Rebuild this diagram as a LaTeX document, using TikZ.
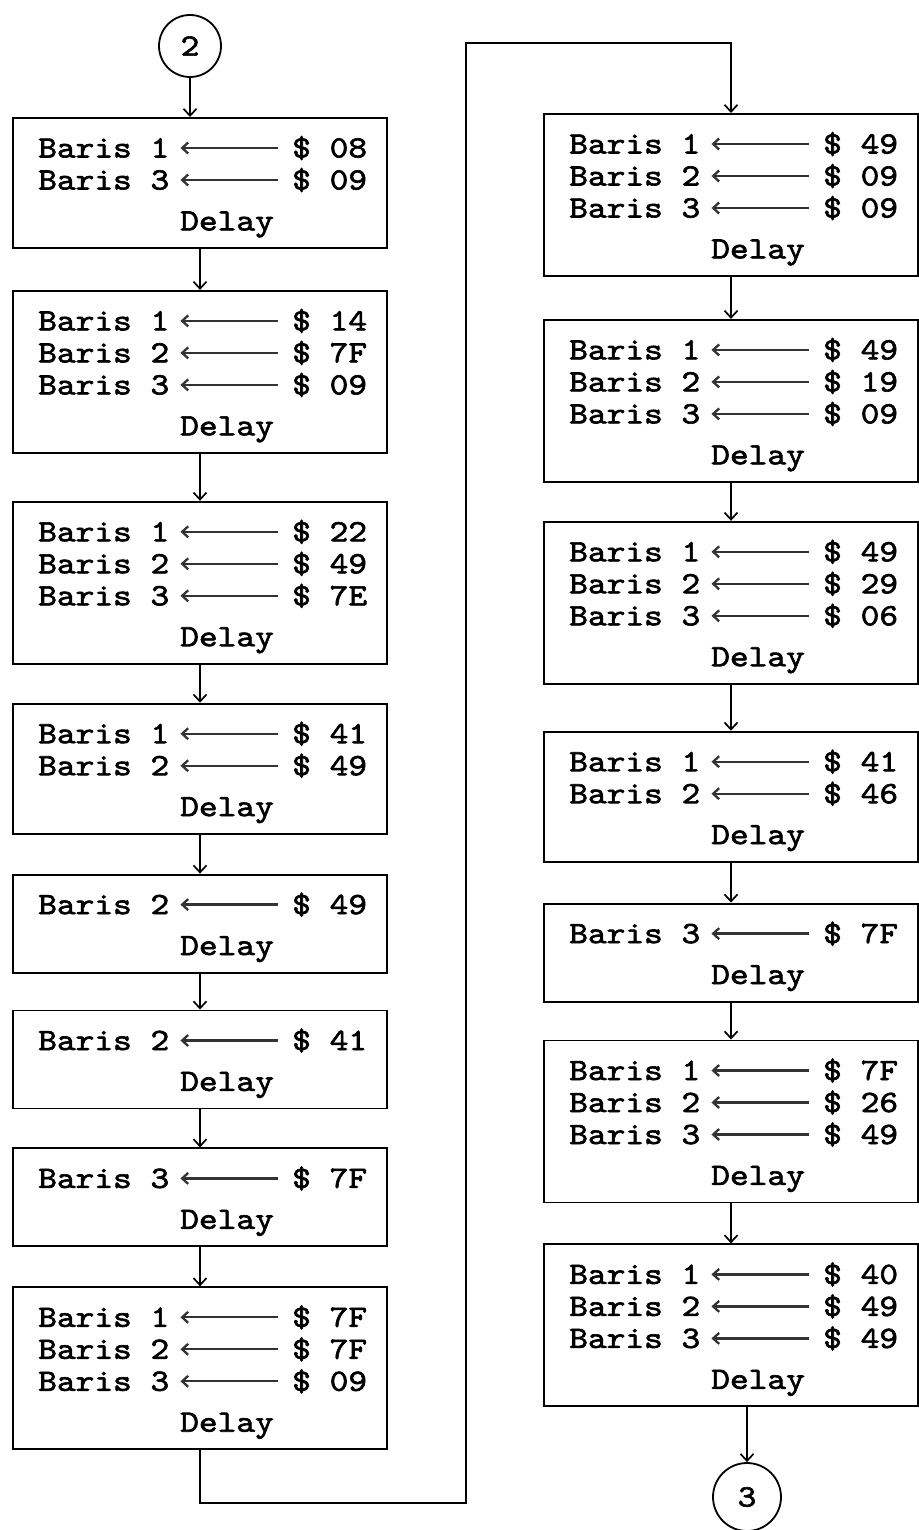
\documentclass[tikz,border=0pt]{standalone}
\usepackage{fontspec}
\usetikzlibrary{arrows.meta, positioning, calc}
\newfontfamily\ketik{lmmono10-regular.otf}[FakeStretch=1.15,FakeBold=2]
\newcommand{\hurufketik}{\ketik\fontsize{31}{31}\selectfont}

% isi satu kotak: baris-baris "Baris n <-- $ xx" lalu "Delay"
\newcommand{\isikotak}[2]{%
  \foreach \brs/\nilai [count=\i] in {#2} {
    \node[teks, anchor=west] (#1-l\i) at ($(#1.north west)+(26,{31+32*(\i-1)})$) {Baris \brs};
    \node[teks, anchor=west] (#1-v\i) at ($(#1.north west)+(280,{31+32*(\i-1)})$) {\$ \nilai};
    \draw[tugas] (#1-v\i) -- (#1-l\i);
  }
  \node[teks] (#1-d) at ($(#1.south west)+(215,-28)$) {Delay};
}

\begin{document}
\begin{tikzpicture}[
    x=1pt, y=-1pt,
    blok/.style={rectangle, draw, line width=1.9pt, minimum width=374pt, minimum height=#1, inner sep=0pt},
    bulat/.style={circle, draw, line width=1.8pt, minimum size=62pt, inner sep=0pt, font=\hurufketik},
    teks/.style={inner sep=0pt, text height=19pt, text depth=0pt, font=\hurufketik},
    alur/.style={line width=1.7pt, -{Straight Barb[length=7pt,width=13pt]}},
    tugas/.style={line width=2.3pt, black!80, shorten <=14pt, shorten >=11pt, -{Straight Barb[length=6pt,width=11pt]}}
]
\useasboundingbox (0,0) rectangle (918,1530);

% kolom kiri
\node[bulat] (c2) at (190,46) {2};
\node[blok=130pt, anchor=north] (b1) at (200,117) {};
\node[blok=162pt, below=41pt of b1] (b2) {};
\node[blok=162pt, below=47pt of b2] (b3) {};
\node[blok=130pt, below=38pt of b3] (b4) {};
\node[blok=98pt, below=39pt of b4] (b5) {};
\node[blok=98pt, below=36pt of b5] (b6) {};
\node[blok=98pt, below=38pt of b6] (b7) {};
\node[blok=162pt, below=39pt of b7] (b8) {};

% kolom kanan
\node[blok=162pt, anchor=north] (r1) at (731,113) {};
\node[blok=162pt, below=42pt of r1] (r2) {};
\node[blok=162pt, below=38pt of r2] (r3) {};
\node[blok=130pt, below=46pt of r3] (r4) {};
\node[blok=98pt, below=40pt of r4] (r5) {};
\node[blok=162pt, below=37pt of r5] (r6) {};
\node[blok=162pt, below=40pt of r6] (r7) {};
\node[bulat, minimum size=68pt] (c3) at (747,1497) {3};

\isikotak{b1}{1/08, 3/09}
\isikotak{b2}{1/14, 2/7F, 3/09}
\isikotak{b3}{1/22, 2/49, 3/7E}
\isikotak{b4}{1/41, 2/49}
\isikotak{b5}{2/49}
\isikotak{b6}{2/41}
\isikotak{b7}{3/7F}
\isikotak{b8}{1/7F, 2/7F, 3/09}
\isikotak{r1}{1/49, 2/09, 3/09}
\isikotak{r2}{1/49, 2/19, 3/09}
\isikotak{r3}{1/49, 2/29, 3/06}
\isikotak{r4}{1/41, 2/46}
\isikotak{r5}{3/7F}
\isikotak{r6}{1/7F, 2/26, 3/49}
\isikotak{r7}{1/40, 2/49, 3/49}

% panah alir
\draw[alur] (c2) -- (c2 |- b1.north);
\foreach \dari/\ke in {b1/b2, b2/b3, b3/b4, b4/b5, b5/b6, b6/b7, b7/b8,
                       r1/r2, r2/r3, r3/r4, r4/r5, r5/r6, r6/r7}
  \draw[alur] (\dari) -- (\ke);
\draw[alur] (r7.south -| c3) -- (c3);

% sambungan kolom kiri ke kanan
\coordinate (belok1) at (466,1503);
\coordinate (belok2) at (466,43);
\draw[alur] (b8.south) |- (belok1) -- (belok2) -| (r1.north);

\end{tikzpicture}
\end{document}
